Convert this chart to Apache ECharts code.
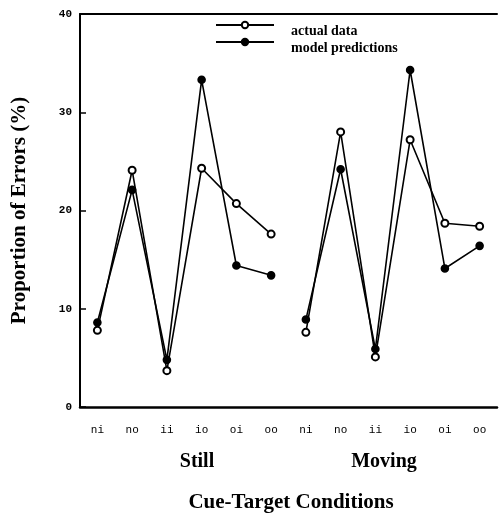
<!DOCTYPE html>
<html>
<head>
<meta charset="utf-8">
<script src="https://cdn.jsdelivr.net/npm/echarts@6/dist/echarts.min.js"></script>
<style>
  html, body { margin: 0; padding: 0; background: #fff; }
  #chart { width: 499px; height: 515px; }
</style>
</head>
<body>
<div id="chart"></div>
<script>
// cue-target conditions, still then moving
const conditions = ['ni', 'no', 'ii', 'io', 'oi', 'oo', 'ni', 'no', 'ii', 'io', 'oi', 'oo']
const yTicks = [0, 10, 20, 30, 40]

const stillActual = [7.8, 24.1, 3.7, 24.3, 20.7, 17.6]
const stillModel = [8.6, 22.1, 4.8, 33.3, 14.4, 13.4]
const movingActual = [7.6, 28.0, 5.1, 27.2, 18.7, 18.4]
const movingModel = [8.9, 24.2, 5.9, 34.3, 14.1, 16.4]

const serifBold = { fontFamily: 'Liberation Serif', fontWeight: 'bold', color: '#000' }
const mono = 'Liberation Mono'

// pad each group so the two groups stay separate lines
const still = vals => vals.concat(new Array(6).fill(null))
const moving = vals => new Array(6).fill(null).concat(vals)

const chart = echarts.init(document.getElementById('chart'))

function lineSeries(name, data, filled) {
  return {
    name,
    type: 'line',
    data,
    xAxisIndex: 0,
    connectNulls: false,
    symbol: filled ? 'circle' : 'emptyCircle',
    symbolSize: 7,
    lineStyle: { color: '#000', width: 1.6 },
    itemStyle: { color: '#000', borderColor: '#000', borderWidth: 1.6 },
    z: filled ? 3 : 2,
    animation: false
  }
}

const bigText = (text, x, y, size) => ({
  type: 'text', x, y,
  style: { text, fill: '#000', font: 'bold ' + size + 'px "Liberation Serif"', align: 'center', verticalAlign: 'middle' }
})

chart.setOption({
  animation: false,
  grid: { left: 80, right: 2, top: 14, bottom: 108 },
  legend: {
    orient: 'vertical',
    left: 215,
    top: 12,
    padding: 0,
    itemWidth: 58,
    itemHeight: 8,
    itemGap: -9,
    data: ['actual data', 'model predictions'],
    // blank first line drops the text a little below the marker, as in the original
    formatter: name => '\n' + name,
    textStyle: { ...serifBold, fontSize: 14, lineHeight: 12, padding: [0, 0, 0, 12] }
  },
  xAxis: [
    {
      type: 'category',
      data: conditions,
      position: 'bottom',
      axisLine: { lineStyle: { color: '#000', width: 2.5 } },
      axisTick: { alignWithLabel: true, inside: false, length: 7, lineStyle: { color: '#000', width: 2 } },
      axisLabel: { fontFamily: mono, fontSize: 11, color: '#000', margin: 18, interval: 0 },
      splitLine: { show: false }
    },
    {
      type: 'category',
      data: conditions,
      position: 'bottom',
      axisLine: { show: false },
      axisTick: { length: 4, lineStyle: { color: '#000', width: 1.5 } },
      axisLabel: { show: false },
      splitLine: { show: false }
    },
    {
      type: 'category',
      data: conditions,
      position: 'top',
      axisLine: { lineStyle: { color: '#000', width: 2 } },
      axisTick: { show: false },
      axisLabel: { show: false },
      splitLine: { show: false }
    }
  ],
  yAxis: {
    type: 'value',
    min: yTicks[0],
    max: yTicks[yTicks.length - 1],
    interval: 10,
    axisLine: { show: true, lineStyle: { color: '#000', width: 2 } },
    axisTick: { show: true, inside: true, length: 6, lineStyle: { color: '#000', width: 1.5 } },
    axisLabel: { fontFamily: mono, fontWeight: 'bold', fontSize: 11, color: '#000', margin: 8 },
    splitLine: { show: false },
    name: 'Proportion of Errors (%)',
    nameLocation: 'middle',
    nameGap: 50,
    nameTextStyle: { ...serifBold, fontSize: 21 }
  },
  graphic: [
    bigText('Still', 197, 462, 20),
    bigText('Moving', 384, 462, 20),
    bigText('Cue-Target Conditions', 291, 503, 21)
  ],
  series: [
    lineSeries('actual data', still(stillActual), false),
    lineSeries('model predictions', still(stillModel), true),
    lineSeries('actual data', moving(movingActual), false),
    lineSeries('model predictions', moving(movingModel), true)
  ]
})
</script>
</body>
</html>
